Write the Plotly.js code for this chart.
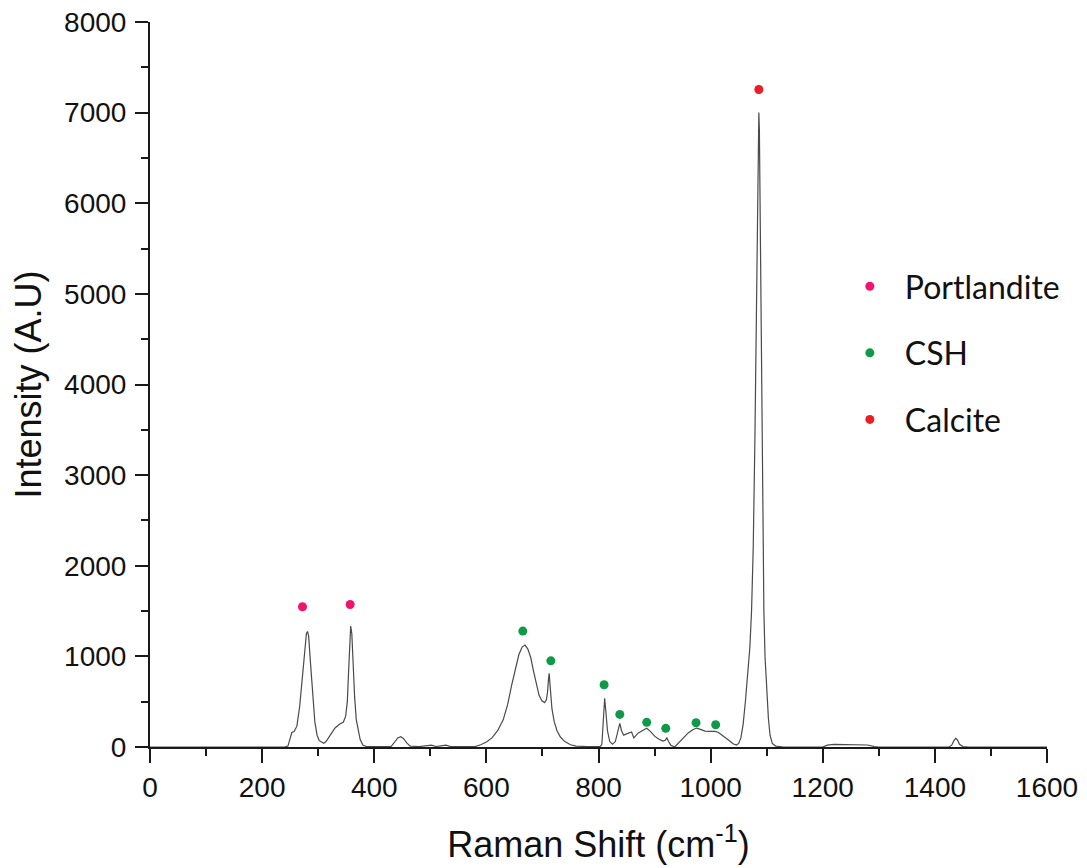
<!DOCTYPE html>
<html>
<head>
<meta charset="utf-8">
<script src="https://cdn.plot.ly/plotly-3.0.1.min.js"></script>
<style>
  html, body { margin: 0; padding: 0; background: #fff; }
  #chart { width: 1087px; height: 868px; }
</style>
</head>
<body>
<div id="chart"></div>
<script>
// Raman spectrum of the hydrated cement paste (sampled trace)
const ramanShift = [
  0, 240, 246, 250, 253, 257, 262, 267, 272, 276, 279, 281, 283, 286, 290, 294, 298, 302, 306, 310,
  314, 318, 324, 330, 338, 345, 349, 352, 354, 356, 358, 360, 362, 365, 368, 371, 375, 380, 386, 430,
  436, 442, 447, 452, 458, 464, 480, 495, 502, 510, 520, 528, 536, 580, 590, 600, 610, 620, 630, 638,
  645, 652, 658, 664, 669, 674, 679, 684, 689, 694, 699, 704, 707, 709, 711, 712, 714, 717, 721, 726,
  732, 740, 750, 760, 780, 803, 806, 809, 811, 813, 816, 820, 825, 830, 834, 838, 841, 845, 850, 855,
  859, 863, 867, 871, 878, 886, 893, 900, 908, 915, 919, 922, 925, 929, 936, 945, 952, 960, 968, 975,
  982, 990, 1000, 1008, 1014, 1020, 1027, 1034, 1040, 1046, 1050, 1054, 1058, 1062, 1066, 1070, 1073, 1076, 1079, 1081,
  1083, 1085, 1086, 1087, 1089, 1091, 1093, 1095, 1097, 1100, 1103, 1106, 1110, 1116, 1130, 1200, 1208, 1220, 1240, 1260,
  1280, 1292, 1300, 1425, 1430, 1434, 1437, 1440, 1444, 1450, 1460, 1600
];
const intensity = [
  0, 0, 10, 90, 160, 170, 230, 450, 800, 1100, 1250, 1275, 1220, 950, 550, 280, 130, 70, 55, 40,
  60, 100, 160, 210, 250, 275, 340, 500, 800, 1150, 1335, 1250, 950, 550, 300, 190, 80, 20, 5, 5,
  50, 100, 113, 95, 45, 10, 5, 15, 20, 5, 15, 20, 5, 5, 25, 55, 100, 180, 300, 470,
  680, 880, 1020, 1105, 1125, 1080, 990, 840, 690, 570, 510, 490, 520, 600, 760, 812, 650, 420, 280, 180,
  110, 60, 25, 10, 5, 5, 30, 300, 537, 400, 180, 60, 30, 60, 150, 261, 180, 130, 145, 160,
  165, 100, 130, 155, 180, 206, 170, 120, 85, 65, 75, 100, 60, 20, 0, 60, 110, 155, 190, 209,
  195, 175, 172, 172, 160, 136, 100, 66, 35, 22, 40, 100, 250, 500, 850, 1100, 1500, 2200, 3400, 4400,
  5600, 6700, 7000, 6800, 5500, 4000, 2700, 1500, 1000, 650, 320, 130, 40, 10, 0, 0, 20, 28, 25, 28,
  22, 5, 0, 0, 20, 70, 95, 80, 30, 5, 0, 0
];

// Band assignments marked above the peaks
const portlanditeX = [272, 357];
const portlanditeY = [1547, 1573];
const cshX = [665, 715, 810, 838, 886, 920, 974, 1009];
const cshY = [1279, 951, 687, 360, 272, 206, 268, 246];
const calciteX = [1086];
const calciteY = [7255];

const legendNames = ['Portlandite', 'CSH', 'Calcite'];
const markerColors = ['#f0146e', '#0e9a48', '#ee1c25'];

const axisColor = '#1a1a1a';
const tickFont = { family: 'Liberation Sans, Arial, sans-serif', size: 28, color: '#111' };
const titleFont = { family: 'Liberation Sans, Arial, sans-serif', size: 36, color: '#111' };

const traces = [
  {
    x: ramanShift, y: intensity, type: 'scatter', mode: 'lines',
    line: { color: '#4a4a4a', width: 1.2 },
    showlegend: false, hoverinfo: 'x+y'
  },
  {
    x: portlanditeX, y: portlanditeY, type: 'scatter', mode: 'markers',
    name: legendNames[0], legendgroup: 'g1',
    marker: { color: markerColors[0], size: 9 }
  },
  {
    x: cshX, y: cshY, type: 'scatter', mode: 'markers',
    name: legendNames[1], legendgroup: 'g2',
    marker: { color: markerColors[1], size: 9 }
  },
  {
    x: calciteX, y: calciteY, type: 'scatter', mode: 'markers',
    name: legendNames[2], legendgroup: 'g3',
    marker: { color: markerColors[2], size: 9 }
  }
];

const layout = {
  width: 1087, height: 868,
  margin: { l: 150, r: 40, t: 22, b: 121 },
  paper_bgcolor: '#fff', plot_bgcolor: '#fff',
  showlegend: true,
  legend: {
    x: 0.7635, y: 0.6732, xanchor: 'left', yanchor: 'top',
    font: { family: 'Lato, sans-serif', size: 32, color: '#111' },
    itemwidth: 60,
    tracegroupgap: 22,
    bgcolor: 'rgba(0,0,0,0)'
  },
  xaxis: {
    range: [0, 1600], dtick: 200, tick0: 0,
    showline: true, linecolor: axisColor, linewidth: 2,
    ticks: 'outside', ticklen: 14, tickwidth: 2, tickcolor: axisColor,
    minor: { dtick: 100, ticks: 'outside', ticklen: 7, tickwidth: 2, tickcolor: axisColor },
    showgrid: false, zeroline: false,
    tickfont: tickFont,
    title: {
      text: 'Raman Shift (cm<sup>-1</sup>)',
      font: titleFont,
      standoff: 30
    }
  },
  yaxis: {
    range: [0, 8000], dtick: 1000, tick0: 0,
    showline: true, linecolor: axisColor, linewidth: 2,
    ticks: 'outside', ticklen: 13, tickwidth: 2, tickcolor: axisColor,
    minor: { dtick: 500, ticks: 'outside', ticklen: 7, tickwidth: 2, tickcolor: axisColor },
    showgrid: false, zeroline: false,
    tickfont: tickFont,
    ticklabelstandoff: 3,
    title: {
      text: 'Intensity (A.U)',
      font: titleFont,
      standoff: 12
    }
  }
};

Plotly.newPlot('chart', traces, layout, { displayModeBar: false });
</script>
</body>
</html>
